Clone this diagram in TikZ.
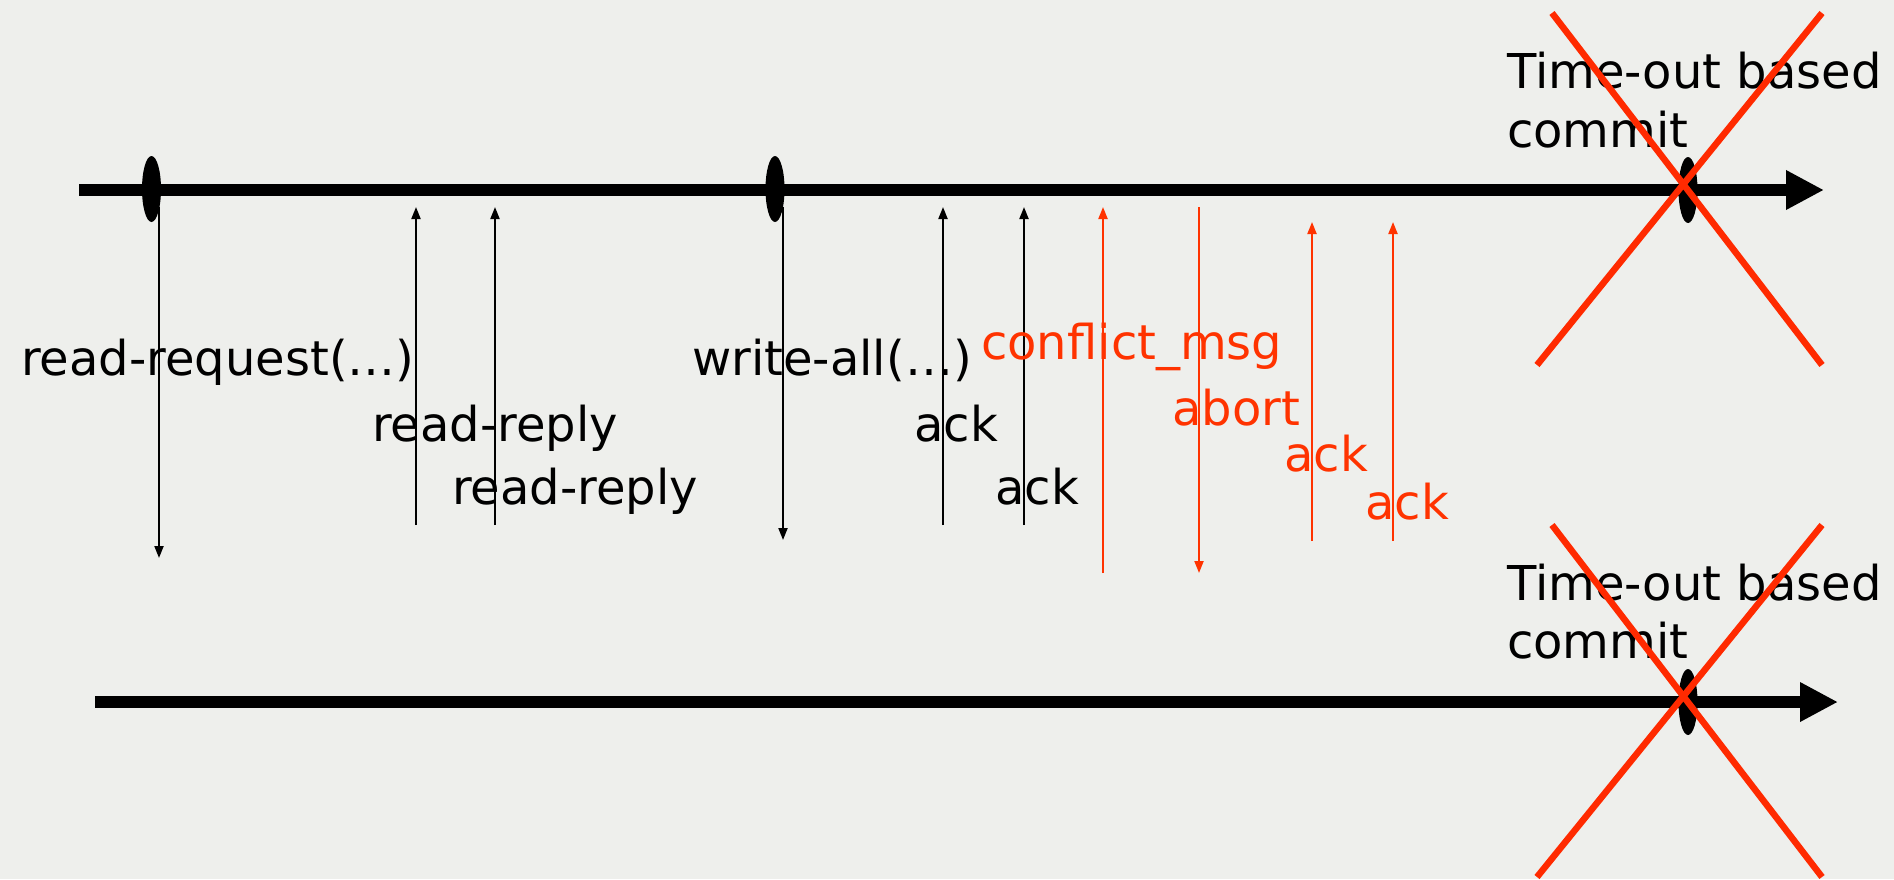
\documentclass[tikz,border=0pt]{standalone}
\usepackage{fontspec}
\setmainfont{DejaVu Sans}
\usetikzlibrary{arrows.meta,shapes.geometric}
\definecolor{bg}{HTML}{EEEFEC}
\definecolor{msgred}{HTML}{FF3300}
\definecolor{xred}{HTML}{FF2A00}
\begin{document}
\begin{tikzpicture}[x=1pt,y=-1pt,
  lbl/.style={anchor=base west,inner sep=0pt,font=\fontsize{48}{56}\selectfont},
  rlbl/.style={lbl,text=msgred},
  msg/.style={line width=2pt,-{Triangle[length=12pt,width=9pt]}},
  rmsg/.style={msg,draw=msgred},
  axis/.style={line width=12pt,-{Triangle[length=38pt,width=37pt]}},
  event/.style={ellipse,fill=black,minimum width=19pt,minimum height=66pt,inner sep=0pt},
  cross/.style={draw=xred,line width=6.5pt}]
\fill[bg] (0,0) rectangle (1894,879);
\useasboundingbox (0,0) rectangle (1894,879);

% axes
\coordinate (a1s) at (79,190);
\coordinate (a1e) at (1824,190);
\coordinate (a2s) at (95,702);
\coordinate (a2e) at (1838,702);
\draw[axis] (a1s) -- (a1e);
\draw[axis] (a2s) -- (a2e);

% events
\node[event] (e1) at (151.5,189) {};
\node[event] (e2) at (775,189) {};
\node[event] (e3) at (1688,190) {};
\node[event] (e4) at (1688,702) {};

% message end points
\coordinate (m1t) at (159,207);  \coordinate (m1b) at (159,558);
\coordinate (m2t) at (416,207);  \coordinate (m2b) at (416,525);
\coordinate (m3t) at (495,207);  \coordinate (m3b) at (495,525);
\coordinate (m4t) at (783,207);  \coordinate (m4b) at (783,540);
\coordinate (m5t) at (943,207);  \coordinate (m5b) at (943,525);
\coordinate (m6t) at (1024,207); \coordinate (m6b) at (1024,525);
\coordinate (m7t) at (1103,207); \coordinate (m7b) at (1103,573);
\coordinate (m8t) at (1199,207); \coordinate (m8b) at (1199,573);
\coordinate (m9t) at (1312,222); \coordinate (m9b) at (1312,541);
\coordinate (m10t) at (1393,222); \coordinate (m10b) at (1393,541);

\draw[msg] (m1t) -- (m1b);
\draw[msg] (m2b) -- (m2t);
\draw[msg] (m3b) -- (m3t);
\draw[msg] (m4t) -- (m4b);
\draw[msg] (m5b) -- (m5t);
\draw[msg] (m6b) -- (m6t);
\draw[rmsg] (m7b) -- (m7t);
\draw[rmsg] (m8t) -- (m8b);
\draw[rmsg] (m9b) -- (m9t);
\draw[rmsg] (m10b) -- (m10t);

% labels
\node[lbl] (l1) at (21,375) {read-request(…)};
\node[lbl] (l2) at (372,441) {read-reply};
\node[lbl] (l3) at (452,504) {read-reply};
\node[lbl] (l4) at (692,375) {write-all(…)};
\node[lbl] (l5) at (914,441) {ack};
\node[lbl] (l6) at (995,504) {ack};
\node[rlbl] (l7) at (981,359) {conflict\_msg};
\node[rlbl] (l8) at (1172,425) {abort};
\node[rlbl] (l9) at (1284,471) {ack};
\node[rlbl] (l10) at (1365,519) {ack};

\node[lbl] (t1a) at (1507,88) {Time-out based};
\node[lbl] (t1b) at (1507,147) {commit};
\node[lbl] (t2a) at (1507,600) {Time-out based};
\node[lbl] (t2b) at (1507,658) {commit};

% crosses
\coordinate (x1a) at (1552,13);  \coordinate (x1b) at (1822,365);
\coordinate (x1c) at (1822,13);  \coordinate (x1d) at (1537,365);
\coordinate (x2a) at (1552,525); \coordinate (x2b) at (1822,877);
\coordinate (x2c) at (1822,525); \coordinate (x2d) at (1537,877);
\draw[cross] (x1a) -- (x1b);
\draw[cross] (x1c) -- (x1d);
\draw[cross] (x2a) -- (x2b);
\draw[cross] (x2c) -- (x2d);
\end{tikzpicture}
\end{document}
